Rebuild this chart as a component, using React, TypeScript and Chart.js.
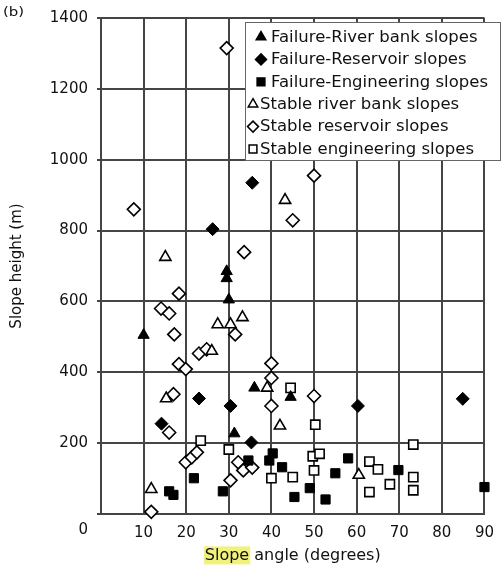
import React, { useEffect, useRef } from 'react';
import { Chart, registerables } from 'chart.js';

Chart.register(...registerables);

// ---------- data (slope angle in degrees, slope height in m) ----------
const failureRiverBank = [
  [10, 505], [29.5, 685], [29.5, 665], [30, 605], [31.3, 227], [36, 356], [44.5, 330],
];
const failureReservoir = [
  [35.5, 935], [26.2, 804], [14.2, 255], [23, 326], [30.4, 305], [35.3, 202], [60.3, 305], [84.9, 325],
];
const failureEngineering = [
  [16, 64], [17, 54], [21.8, 101], [28.6, 64], [34.6, 151], [39.5, 151], [40.3, 171], [42.5, 132],
  [45.4, 48], [49, 73], [52.7, 41], [55, 115], [58, 157], [69.8, 124], [90, 76],
];
const stableRiverBank = [
  [15.1, 725], [43.2, 886], [27.4, 535], [30.4, 535], [33.2, 555], [26, 460], [15.3, 326],
  [11.8, 70], [39, 356], [42, 249], [60.5, 110],
];
const stableReservoir = [
  [29.5, 1315], [7.7, 860], [45, 829], [50, 955], [33.6, 739], [18.3, 622], [14.1, 580], [16, 566],
  [17.2, 507], [31.5, 507], [23, 453], [24.8, 465], [18.3, 423], [19.9, 409], [17, 338], [16, 230],
  [19.9, 146], [21.3, 160], [22.5, 174], [11.8, 6], [30.4, 95], [32.2, 146], [33.4, 123], [35.5, 131],
  [40, 425], [40, 384], [40, 305], [50, 333],
];
const stableEngineering = [
  [23.4, 207], [30, 182], [40, 101], [45, 104], [44.5, 356], [50.3, 252], [49.7, 163], [51.3, 170],
  [50, 123], [63, 148], [65, 126], [63, 62], [67.8, 84], [73.3, 196], [73.3, 104], [73.3, 67],
];

const xTicksMax = 90;
const yTicksMax = 1400;
const xStep = 10;
const yStep = 200;

const xTitle = 'Slope angle (degrees)';
const xTitleHighlight = 'Slope';
const yTitle = 'Slope height (m)';
const panelLabel = '(b)';

type Series = { label: string; data: number[][]; style: string; filled: boolean };
const seriesList: Series[] = [
  { label: 'Failure-River bank slopes', data: failureRiverBank, style: 'triangle', filled: true },
  { label: 'Failure-Reservoir slopes', data: failureReservoir, style: 'rectRot', filled: true },
  { label: 'Failure-Engineering slopes', data: failureEngineering, style: 'rect', filled: true },
  { label: 'Stable river bank slopes', data: stableRiverBank, style: 'triangle', filled: false },
  { label: 'Stable reservoir slopes', data: stableReservoir, style: 'rectRot', filled: false },
  { label: 'Stable engineering slopes', data: stableEngineering, style: 'rect', filled: false },
];

const FONT = '"DejaVu Sans", sans-serif';
const GRID = '#454545';
const TEXT = '#111';

function markerRadius(style: string) {
  if (style === 'rectRot') return 6.5;
  if (style === 'rect') return 6.5;
  return 6.5;
}

function drawMarker(ctx: CanvasRenderingContext2D, style: string, x: number, y: number, r: number, filled: boolean) {
  ctx.beginPath();
  if (style === 'triangle') {
    for (let i = 0; i < 3; i++) {
      const a = (i * 2 * Math.PI) / 3;
      const px = x + Math.sin(a) * r;
      const py = y - Math.cos(a) * r;
      if (i === 0) ctx.moveTo(px, py); else ctx.lineTo(px, py);
    }
    ctx.closePath();
  } else if (style === 'rectRot') {
    ctx.moveTo(x, y - r);
    ctx.lineTo(x + r, y);
    ctx.lineTo(x, y + r);
    ctx.lineTo(x - r, y);
    ctx.closePath();
  } else {
    const s = r * Math.SQRT1_2;
    ctx.rect(x - s, y - s, 2 * s, 2 * s);
  }
  ctx.fillStyle = filled ? '#000' : '#fff';
  ctx.fill();
  ctx.lineWidth = 1.5;
  ctx.strokeStyle = '#000';
  ctx.stroke();
}

function wideText(ctx: CanvasRenderingContext2D, text: string, x: number, y: number, sx: number) {
  ctx.save();
  ctx.translate(x, y);
  ctx.scale(sx, 1);
  ctx.fillText(text, 0, 0);
  ctx.restore();
}

const decorPlugin = {
  id: 'decor',
  beforeDraw(chart: any) {
    // yellow highlight behind "Slope" in the x-axis title
    const ctx: CanvasRenderingContext2D = chart.ctx;
    const xs = chart.scales.x;
    const tfont = xs.options.title.font;
    ctx.save();
    ctx.font = `${tfont.size}px ${FONT}`;
    const full = ctx.measureText(xTitle).width;
    const w = ctx.measureText(xTitleHighlight).width;
    const cx = (xs.left + xs.right) / 2;
    const lh = tfont.size * 1.2;
    const cy = xs.bottom - xs.options.title.padding.bottom - lh / 2;
    ctx.fillStyle = '#f1f27c';
    ctx.fillRect(cx - full / 2 - 1, cy - 9, w + 2, 18);
    ctx.restore();
  },
  afterDraw(chart: any) {
    const ctx: CanvasRenderingContext2D = chart.ctx;
    const area = chart.chartArea;
    const ys = chart.scales.y;
    ctx.save();
    ctx.fillStyle = TEXT;
    // the "0" label of the height axis, set low in the original figure
    ctx.font = `15px ${FONT}`;
    ctx.textAlign = 'right';
    ctx.textBaseline = 'middle';
    ctx.fillText('0', ys.right - 13, area.bottom + 16);
    // panel label
    ctx.font = `13px ${FONT}`;
    ctx.textAlign = 'left';
    wideText(ctx, panelLabel, 3, 13, 1.15);

    // legend box
    const bx = area.left + 144;
    const by = area.top + 4;
    const bw = 256;
    const bh = 139;
    ctx.fillStyle = '#fff';
    ctx.fillRect(bx, by, bw, bh);
    ctx.strokeStyle = '#666';
    ctx.lineWidth = 1;
    ctx.strokeRect(bx + 0.5, by + 0.5, bw - 1, bh - 1);
    ctx.font = `15px ${FONT}`;
    ctx.textBaseline = 'middle';
    seriesList.forEach((s, i) => {
      const yy = by + 15 + i * 22.4;
      const mx = s.filled ? bx + 16 : bx + 8;
      const tx = s.filled ? bx + 26 : bx + 15;
      drawMarker(ctx, s.style, mx, yy, 5.5, s.filled);
      ctx.fillStyle = TEXT;
      wideText(ctx, s.label, tx, yy + 1, 1.1);
    });
    ctx.restore();
  },
};

export default function App() {
  const ref = useRef<HTMLCanvasElement | null>(null);

  useEffect(() => {
    if (!ref.current) return;
    const datasets = seriesList.map((s) => ({
      label: s.label,
      data: s.data.map(([x, y]) => ({ x, y })),
      pointStyle: s.style,
      pointRadius: markerRadius(s.style),
      pointHoverRadius: markerRadius(s.style),
      backgroundColor: s.filled ? '#000' : '#fff',
      borderColor: '#000',
      borderWidth: s.filled ? 1 : 1.6,
      clip: false as any,
    }));

    const chart = new Chart(ref.current, {
      type: 'scatter',
      data: { datasets },
      options: {
        animation: false,
        responsive: false,
        maintainAspectRatio: false,
        layout: { padding: { top: 14, right: 15, left: 0, bottom: 0 } },
        plugins: {
          legend: { display: false },
          tooltip: { enabled: false },
        },
        scales: {
          x: {
            type: 'linear',
            min: 0,
            max: xTicksMax,
            afterFit: (scale: any) => { scale.height = 57; },
            ticks: {
              stepSize: xStep,
              color: TEXT,
              font: { family: FONT, size: 15 },
              padding: 10,
              maxRotation: 0,
              callback: (v: any) => (v === 0 ? '' : String(v)),
            },
            grid: { color: GRID, lineWidth: 2, drawTicks: false },
            border: { color: GRID, width: 2 },
            title: {
              display: true,
              text: xTitle,
              color: TEXT,
              font: { family: FONT, size: 16 },
              padding: { top: 0, bottom: 6 },
            },
          },
          y: {
            type: 'linear',
            min: 0,
            max: yTicksMax,
            afterFit: (scale: any) => { scale.width = 101; },
            ticks: {
              stepSize: yStep,
              color: TEXT,
              font: { family: FONT, size: 15 },
              padding: 9,
              callback: (v: any) => (v === 0 ? '' : String(v)),
            },
            grid: { color: GRID, lineWidth: 2, tickLength: 4 },
            border: { color: GRID, width: 2 },
            title: {
              display: true,
              text: yTitle,
              color: TEXT,
              font: { family: FONT, size: 15 },
              padding: { top: 8, bottom: 0 },
            },
          },
        },
      },
      plugins: [decorPlugin],
    });
    return () => chart.destroy();
  }, []);

  return (
    <div style={{ position: 'absolute', left: 0, top: 0, width: 504, height: 571, background: '#fff' }}>
      <canvas ref={ref} width={504} height={571} style={{ display: 'block' }} />
    </div>
  );
}
